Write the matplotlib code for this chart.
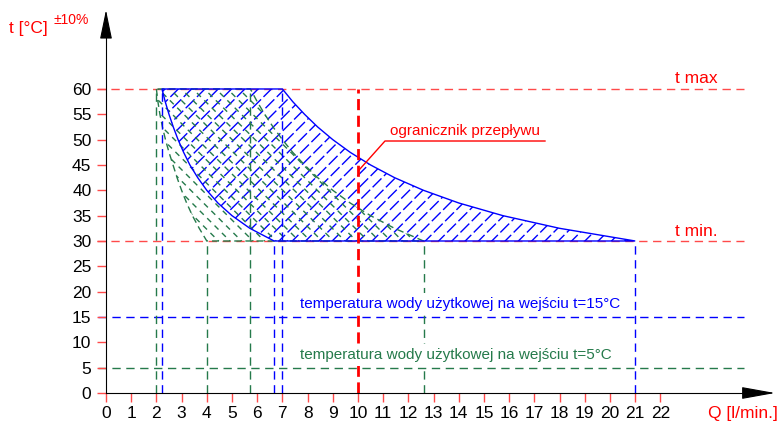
import numpy as np
import matplotlib
matplotlib.use("Agg")
import matplotlib.pyplot as plt
from matplotlib.patches import Polygon
from matplotlib.collections import LineCollection

plt.rcParams['font.family'] = ['Liberation Sans', 'DejaVu Sans']

# outlet temperature points along the working-range curves
t_pts = [60, 57.5, 55, 52.5, 50, 47.5, 45, 42.5, 40, 37.5, 35, 32.5, 30]
# inlet 15°C (blue) range
blue_left_q = [2.22, 2.35, 2.5, 2.67, 2.86, 3.08, 3.33, 3.64, 4.0, 4.44, 5.0, 5.71, 6.67]
blue_right_q = [7.0, 7.41, 7.88, 8.4, 9.0, 9.69, 10.5, 11.45, 12.6, 14.0, 15.75, 18.0, 21.0]
# inlet 5°C (green) range
green_left_q = [2.0, 2.06, 2.14, 2.24, 2.36, 2.5, 2.66, 2.82, 3.0, 3.2, 3.43, 3.7, 4.0]
green_right_q = [5.73, 6.0, 6.3, 6.63, 7.0, 7.41, 7.88, 8.4, 9.0, 9.69, 10.5, 11.45, 12.6]

t_max = 60
t_min = 30
t_in_blue = 15
t_in_green = 5
q_limit = 10

x_ticks = list(range(0, 23))
y_ticks = list(range(0, 61, 5))

RED = '#ff0000'
RED_L = '#ff4a4a'
BLUE = '#0000ff'
GREEN = '#257a4b'

W, H = 778, 423
fig = plt.figure(figsize=(W / 100, H / 100), dpi=100)
ax = fig.add_axes([0, 0, 1, 1])
xmin, xmax = -4.206, 26.667
ymin, ymax = -5.92, 77.56
ax.set_xlim(xmin, xmax)
ax.set_ylim(ymin, ymax)
sx = W / (xmax - xmin)   # px per unit Q
sy = H / (ymax - ymin)   # px per unit t
k = sx / sy              # slope of a 45 deg pixel line in data units


def region(left_q, right_q):
    verts = list(zip(left_q, t_pts)) + list(zip(right_q[::-1], t_pts[::-1]))
    return verts


def hatch(patch, direction, spacing_px, color, dashes, lw):
    sp = spacing_px / sx
    segs = []
    if direction > 0:
        for c in np.arange(-15, 25, sp):
            segs.append([(c + 25 / k, 25), (c + 65 / k, 65)])
    else:
        for c in np.arange(0, 30, sp):
            segs.append([(c - 25 / k, 25), (c - 65 / k, 65)])
    lc = LineCollection(segs, colors=color, linewidths=lw, linestyles=[(0, dashes)], zorder=2)
    ax.add_collection(lc)
    lc.set_clip_path(patch)


# blue region
blue_patch = Polygon(region(blue_left_q, blue_right_q), closed=True, fill=False,
                     edgecolor=BLUE, lw=1.0, zorder=4)
ax.add_patch(blue_patch)
hatch(blue_patch, 1, 13.3, BLUE, (9, 2.5), 1.0)

# green region
green_patch = Polygon(region(green_left_q, green_right_q), closed=True, fill=False,
                      edgecolor=GREEN, lw=1.0, ls=(0, (5, 3)), zorder=3)
ax.add_patch(green_patch)
hatch(green_patch, -1, 11.5, GREEN, (4, 3.5), 1.0)

# vertical helper lines
ax.vlines([green_left_q[0], green_right_q[0]], 0, t_max, colors=GREEN, lw=1.0, ls=(0, (6, 4)), zorder=3)
ax.vlines([green_left_q[-1], green_right_q[-1]], 0, t_min, colors=GREEN, lw=1.0, ls=(0, (6, 4)), zorder=3)
ax.vlines([blue_left_q[0], blue_right_q[0]], 0, t_max, colors=BLUE, lw=1.0, ls=(0, (6, 4)), zorder=3)
ax.vlines([blue_left_q[-1], blue_right_q[-1]], 0, t_min, colors=BLUE, lw=1.0, ls=(0, (6, 4)), zorder=3)

# horizontal helper lines
ax.hlines([t_max, t_min], -0.36, 25.3, colors=RED_L, lw=1.0, ls=(0, (6, 4)), zorder=1)
ax.hlines([t_in_blue], -0.3, 25.3, colors=BLUE, lw=1.0, ls=(0, (6, 4)), zorder=1)
ax.hlines([t_in_green], -0.3, 25.3, colors=GREEN, lw=1.0, ls=(0, (6, 4)), zorder=1)

# flow limiter
ax.vlines([q_limit], 0, t_max, colors=RED, lw=2.0, ls=(0, (4, 2)), zorder=5)

# axes with arrows
for s in ['top', 'right']:
    ax.spines[s].set_visible(False)
ax.spines['left'].set_position(('data', 0))
ax.spines['bottom'].set_position(('data', 0))
ax.spines['left'].set_bounds(0, 72)
ax.spines['bottom'].set_bounds(0, 26)
ax.spines['left'].set_zorder(6)
ax.spines['bottom'].set_zorder(6)
ax.set_xticks(x_ticks)
ax.set_yticks(y_ticks)
ax.tick_params(axis='both', direction='out', length=6.5, width=1.0, color=RED_L,
               labelsize=12.5, labelcolor='black')
ax.tick_params(axis='y', pad=4)
ax.tick_params(axis='x', pad=3)

ax.annotate('', xy=(0, (393 - 10) / sy), xytext=(0, (393 - 36) / sy),
            arrowprops=dict(arrowstyle='-|>,head_length=1.3,head_width=0.27', color='black',
                            lw=0.8, shrinkA=0, shrinkB=0, mutation_scale=14))
ax.annotate('', xy=((775 - 106) / sx, 0), xytext=((746 - 106) / sx, 0),
            arrowprops=dict(arrowstyle='-|>,head_length=1.5,head_width=0.27', color='black',
                            lw=0.8, shrinkA=0, shrinkB=0, mutation_scale=14))

# labels
ax.text(-3.85, 71.05, 't [°C]', color=RED, fontsize=12.5, ha='left', va='baseline')
ax.text((54 - 106) / sx, (393 - 24) / sy, '±10%', color=RED, fontsize=10, ha='left', va='baseline')
ax.text((708 - 106) / sx, (393 - 418) / sy, 'Q [l/min.]', color=RED, fontsize=12.5, ha='left', va='baseline')
ax.text((675 - 106) / sx, (393 - 83) / sy, 't max', color=RED, fontsize=12.5, ha='left', va='baseline')
ax.text((675 - 106) / sx, (393 - 236) / sy, 't min.', color=RED, fontsize=12.5, ha='left', va='baseline')
ax.text((390 - 106) / sx, (393 - 135) / sy, 'ogranicznik przepływu', color=RED, fontsize=11,
        ha='left', va='baseline')
ax.plot([q_limit + 0.04, (385 - 106) / sx, (545 - 106) / sx],
        [44.0, (393 - 141) / sy, (393 - 141) / sy], color=RED, lw=1.0, zorder=6)
box = dict(facecolor='white', edgecolor='none', pad=2.5)
ax.text((300 - 106) / sx, (393 - 308) / sy, 'temperatura wody użytkowej na wejściu t=15°C',
        color=BLUE, fontsize=11, ha='left', va='baseline', bbox=box, zorder=7)
ax.text((300 - 106) / sx, (393 - 359) / sy, 'temperatura wody użytkowej na wejściu t=5°C',
        color=GREEN, fontsize=11, ha='left', va='baseline', bbox=box, zorder=7)

fig.savefig('out.png', dpi=100)
